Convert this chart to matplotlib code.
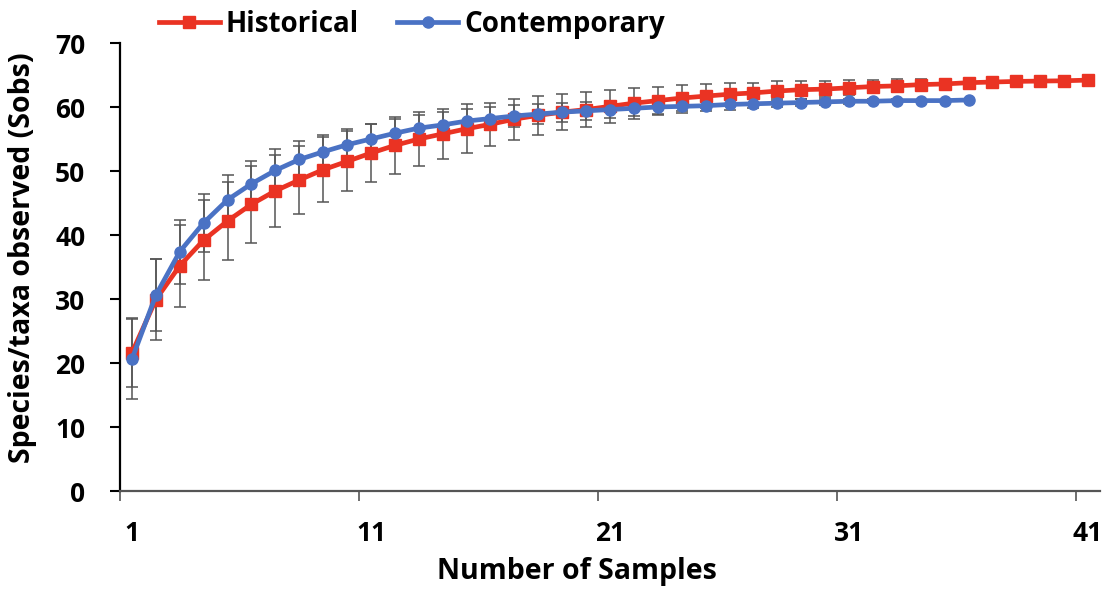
import matplotlib
matplotlib.use("Agg")
import matplotlib.pyplot as plt
import numpy as np

plt.rcParams["font.family"] = ["Open Sans", "DejaVu Sans"]
plt.rcParams["font.weight"] = "bold"

# Historical samples (41 points)
hist_mean = [21.6, 29.9, 35.2, 39.2, 42.2, 44.8, 46.9, 48.6, 50.2, 51.5,
             52.8, 54.0, 55.0, 55.8, 56.6, 57.3, 58.1, 58.7, 59.2, 59.6,
             60.1, 60.6, 61.0, 61.4, 61.7, 62.0, 62.2, 62.5, 62.7, 62.8,
             63.0, 63.2, 63.3, 63.5, 63.6, 63.8, 63.9, 64.0, 64.05, 64.1,
             64.2]
hist_err = [5.4, 6.3, 6.4, 6.3, 6.1, 6.0, 5.6, 5.3, 5.1, 4.7,
            4.5, 4.4, 4.2, 3.9, 3.8, 3.4, 3.2, 3.0, 2.8, 2.7,
            2.6, 2.4, 2.2, 2.1, 1.9, 1.7, 1.6, 1.5, 1.4, 1.3,
            1.2, 1.0, 1.0, 0.9, 0.6, 0.5, 0.4, 0.3, 0.2, 0.1,
            0.0]

# Contemporary samples (36 points)
cont_mean = [20.6, 30.6, 37.4, 41.9, 45.5, 48.0, 50.1, 51.8, 53.0, 54.1,
             55.0, 55.9, 56.7, 57.2, 57.8, 58.2, 58.6, 58.9, 59.2, 59.4,
             59.6, 59.8, 60.0, 60.1, 60.2, 60.4, 60.5, 60.6, 60.7, 60.8,
             60.9, 60.9, 61.0, 61.0, 61.0, 61.1]
cont_err = [6.3, 5.6, 5.0, 4.5, 3.9, 3.6, 3.3, 2.9, 2.7, 2.5,
            2.3, 2.2, 2.1, 2.0, 1.9, 1.8, 1.7, 1.6, 1.5, 1.4,
            1.3, 1.2, 1.1, 1.0, 0.9, 0.8, 0.7, 0.6, 0.5, 0.45,
            0.4, 0.3, 0.2, 0.15, 0.1, 0.0]

x_labels = [1, 11, 21, 31, 41]

RED = "#EA3323"
BLUE = "#4A72C4"
GREY = "#555555"

fig = plt.figure(figsize=(11.13, 5.92), dpi=100)
ax = fig.add_axes([120 / 1113, 1 - 491 / 592, 980 / 1113, 448 / 592])

xh = np.arange(1, len(hist_mean) + 1)
xc = np.arange(1, len(cont_mean) + 1)

ax.errorbar(xh, hist_mean, yerr=hist_err, fmt="none", ecolor=GREY,
            elinewidth=1.1, capsize=4, capthick=1.1, zorder=2)
ax.errorbar(xc, cont_mean, yerr=cont_err, fmt="none", ecolor=GREY,
            elinewidth=1.1, capsize=4, capthick=1.1, zorder=2)
ax.plot(xh, hist_mean, color=RED, lw=3.4, marker="s", ms=8,
        label="Historical", zorder=3)
ax.plot(xc, cont_mean, color=BLUE, lw=3.4, marker="o", ms=8,
        label="Contemporary", zorder=4)

ax.set_xlim(0.5, 41.5)
ax.set_ylim(0, 70)
ax.set_yticks(range(0, 71, 10))
ax.tick_params(axis="y", direction="out", length=7, width=1.5,
               labelsize=19, pad=18)

# category-style axis: tick marks between categories, labels on points
ax.set_xticks([0.5, 10.5, 20.5, 30.5, 40.5])
ax.set_xticklabels([])
ax.tick_params(axis="x", which="major", direction="out", length=7,
               width=1.2, color=GREY)
ax.set_xticks(x_labels, minor=True)
ax.set_xticklabels([str(v) for v in x_labels], minor=True)
ax.tick_params(axis="x", which="minor", length=0, labelsize=19, pad=21)

for s in ("top", "right"):
    ax.spines[s].set_visible(False)
ax.spines["left"].set_linewidth(1.6)
ax.spines["bottom"].set_linewidth(1.6)
ax.spines["bottom"].set_color(GREY)

ax.set_xlabel("Number of Samples", fontsize=20.5, fontweight="bold")
ax.xaxis.set_label_coords(0.466, -0.148)
ax.set_ylabel("Species/taxa observed (Sobs)", fontsize=20.5,
              fontweight="bold")
ax.yaxis.set_label_coords(-0.085, 0.52)

fig.legend(loc="upper left", bbox_to_anchor=(0.12, 1.026), ncol=2,
           frameon=False, handlelength=2.2, handletextpad=0.2,
           columnspacing=1.4, prop={"weight": "bold", "size": 20})

fig.savefig("out.png", dpi=100)
